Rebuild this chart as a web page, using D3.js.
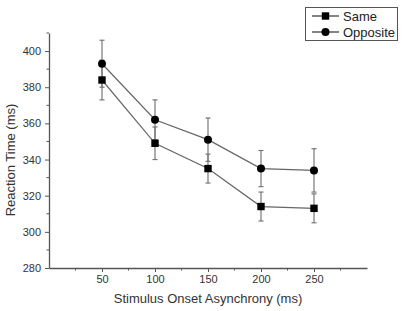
<!DOCTYPE html>
<html>
<head>
<meta charset="utf-8">
<script src="https://cdn.jsdelivr.net/npm/d3@7"></script>
<style>
  body { margin: 0; background: #fff; }
  svg { font-family: Arial, "Liberation Sans", sans-serif; }
</style>
</head>
<body>
<svg width="406" height="311"></svg>
<script>
        // Data
        var soa = [50, 100, 150, 200, 250];
        var sameRT = [384, 349, 335, 314, 313];
        var sameErr = [11, 9, 8, 8, 8];
        var oppRT = [393, 362, 351, 335, 334];
        var oppErr = [13, 11, 12, 10, 12];
        var xTicks = [50, 100, 150, 200, 250];
        var yTicks = [280, 300, 320, 340, 360, 380, 400];

        var svg = d3.select("svg");
        var axisColor = "#555";
        var textColor = "#333";

        var xScale = d3.scaleLinear().domain([0, 300]).range([49, 367]);
        var yScale = d3.scaleLinear().domain([280, 410]).range([268, 33]);

        // minor ticks
        var xMinor = d3.range(25, 300, 50);
        var yMinor = d3.range(290, 411, 20);

        svg.selectAll(".xminor").data(xMinor).enter().append("line")
            .attr("x1", d => xScale(d)).attr("x2", d => xScale(d))
            .attr("y1", 268).attr("y2", 270.5)
            .attr("stroke", axisColor);
        svg.selectAll(".yminor").data(yMinor).enter().append("line")
            .attr("y1", d => yScale(d)).attr("y2", d => yScale(d))
            .attr("x1", 49).attr("x2", 46.5)
            .attr("stroke", axisColor);

        // X Axis
        var xAxis = d3.axisBottom(xScale).tickValues(xTicks).tickSize(4).tickPadding(3).tickSizeOuter(0);
        var gx = svg.append("g").attr("transform", "translate(0,268)").call(xAxis);
        gx.select(".domain").attr("stroke", axisColor).attr("stroke-width", 1.3);
        gx.selectAll(".tick line").attr("stroke", axisColor);
        gx.selectAll(".tick text").attr("fill", textColor).attr("font-size", "11px")
            .attr("font-family", "Arial, 'Liberation Sans', sans-serif");

        // Y Axis
        var yAxis = d3.axisLeft(yScale).tickValues(yTicks).tickSize(4).tickPadding(4).tickSizeOuter(0);
        var gy = svg.append("g").attr("transform", "translate(49,0)").call(yAxis);
        gy.select(".domain").attr("stroke", axisColor).attr("stroke-width", 1.3);
        gy.selectAll(".tick line").attr("stroke", axisColor);
        gy.selectAll(".tick text").attr("fill", textColor).attr("font-size", "11px")
            .attr("font-family", "Arial, 'Liberation Sans', sans-serif");

        // axis titles
        svg.append("text")
            .attr("text-anchor", "middle")
            .attr("x", 208).attr("y", 303)
            .attr("font-size", "13px").attr("fill", textColor)
            .text("Stimulus Onset Asynchrony (ms)");
        svg.append("text")
            .attr("text-anchor", "middle")
            .attr("transform", "translate(15,160) rotate(-90)")
            .attr("font-size", "13px").attr("fill", textColor)
            .text("Reaction Time (ms)");

        var series = [
            {name: "Same", rt: sameRT, err: sameErr, shape: "square"},
            {name: "Opposite", rt: oppRT, err: oppErr, shape: "circle"}
        ];

        var line = d3.line().x((d, i) => xScale(soa[i])).y(d => yScale(d));

        // error bars
        series.forEach(function(s) {
            var g = svg.append("g");
            s.rt.forEach(function(v, i) {
                var x = xScale(soa[i]);
                var lo = yScale(v - s.err[i]), hi = yScale(v + s.err[i]);
                g.append("line").attr("x1", x).attr("x2", x).attr("y1", lo).attr("y2", hi)
                    .attr("stroke", "#777").attr("stroke-width", 1.2);
                [lo, hi].forEach(function(y) {
                    g.append("line").attr("x1", x - 2.5).attr("x2", x + 2.5).attr("y1", y).attr("y2", y)
                        .attr("stroke", "#777").attr("stroke-width", 1.2);
                });
            });
        });

        // lines
        series.forEach(function(s) {
            svg.append("path").datum(s.rt)
                .attr("d", line)
                .attr("fill", "none")
                .attr("stroke", "#666")
                .attr("stroke-width", 1.2);
        });

        function drawMarker(g, shape, x, y) {
            if (shape === "square") {
                g.append("rect").attr("x", x - 3.7).attr("y", y - 3.7)
                    .attr("width", 7.4).attr("height", 7.4).attr("fill", "#000");
            } else {
                g.append("circle").attr("cx", x).attr("cy", y).attr("r", 4).attr("fill", "#000");
            }
        }

        // markers
        series.forEach(function(s) {
            var g = svg.append("g");
            s.rt.forEach(function(v, i) {
                drawMarker(g, s.shape, xScale(soa[i]), yScale(v));
            });
        });

        // legend
        var legend = svg.append("g");
        legend.append("rect")
            .attr("x", 305.5).attr("y", 7.5).attr("width", 92).attr("height", 33)
            .attr("fill", "#fff").attr("stroke", "#555").attr("stroke-width", 1);
        series.forEach(function(s, i) {
            var y = 16 + i * 16;
            legend.append("line").attr("x1", 312).attr("x2", 339).attr("y1", y).attr("y2", y)
                .attr("stroke", "#333").attr("stroke-width", 1.2);
            drawMarker(legend, s.shape, 325.5, y);
            legend.append("text").attr("x", 343).attr("y", y + 4.5)
                .attr("font-size", "13px").attr("fill", "#222")
                .text(s.name);
        });
</script>
</body>
</html>
